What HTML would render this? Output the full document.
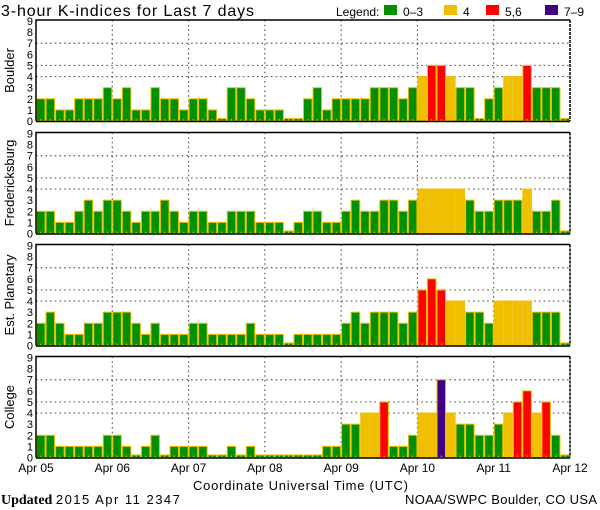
<!DOCTYPE html>
<html><head><meta charset="utf-8"><style>
body{margin:0;background:#fff;}
svg{display:block;font-family:"Liberation Sans","DejaVu Sans",sans-serif;}
</style></head><body>
<svg id="chart" width="600" height="510" viewBox="0 0 600 510">
<text x="1" y="16" font-size="16" fill="#000" textLength="253" lengthAdjust="spacing">3-hour K-indices for Last 7 days</text>
<g font-size="12">
<text x="336" y="16">Legend:</text>
<rect x="384" y="5" width="13" height="10" fill="#009000"/>
<text x="403" y="16">0–3</text>
<rect x="444" y="5" width="13" height="10" fill="#f0c000"/>
<text x="463" y="16">4</text>
<rect x="486" y="5" width="13" height="10" fill="#ff0000"/>
<text x="505" y="16">5,6</text>
<rect x="545" y="5" width="13" height="10" fill="#400080"/>
<text x="564" y="16">7–9</text>
</g>
<g id="panels"></g>
<text x="193" y="490" font-size="13" textLength="215" lengthAdjust="spacing">Coordinate Universal Time (UTC)</text>
<text x="1" y="504" font-size="14" font-family="Liberation Serif,serif"><tspan font-weight="bold">Updated</tspan> <tspan font-family="Liberation Sans,sans-serif" font-size="13" textLength="124" lengthAdjust="spacing">2015 Apr 11 2347</tspan></text>
<text x="405" y="504" font-size="13" textLength="192" lengthAdjust="spacing">NOAA/SWPC Boulder, CO USA</text>
</svg>
<script>
const stations = ["Boulder","Fredericksburg","Est. Planetary","College"];
const boulder = [2,2,1,1,2,2,2,3, 2,3,1,1,3,2,2,1, 2,2,1,0,3,3,2,1, 1,1,0,0,2,3,1,2, 2,2,2,3,3,3,2,3, 4,5,5,4,3,3,0,2, 3,4,4,5,3,3,3,0];
const fredericksburg = [2,2,1,1,2,3,2,3, 3,2,1,2,2,3,2,1, 2,2,1,1,2,2,2,1, 1,1,0,1,2,2,1,1, 2,3,2,2,3,3,2,3, 4,4,4,4,4,3,2,2, 3,3,3,4,2,2,3,0];
const planetary = [2,3,2,1,1,2,2,3, 3,3,2,1,2,1,1,1, 2,2,1,1,1,1,2,1, 1,1,0,1,1,1,1,1, 2,3,2,3,3,3,2,3, 5,6,5,4,4,3,3,2, 4,4,4,4,3,3,3,0];
const college = [2,2,1,1,1,1,1,2, 2,1,0,1,2,0,1,1, 1,1,0,0,1,0,1,0, 0,0,0,0,0,0,1,1, 3,3,4,4,5,1,1,2, 4,4,7,4,3,3,2,2, 3,4,5,6,4,5,2,0];
const dayLabels = ["Apr 05","Apr 06","Apr 07","Apr 08","Apr 09","Apr 10","Apr 11","Apr 12"];
const yTicks = [0,1,2,3,4,5,6,7,8,9];
const gridLevels = [4,5,7];

const series = [boulder, fredericksburg, planetary, college];
const NS = "http://www.w3.org/2000/svg";
const root = document.getElementById("panels");
const L = 36, R = 570, PH = 101;
const tops = [20, 132.5, 244.5, 356.5];
const nBars = 56;
const xScale = i => L + (R - L) * i / nBars;
function mk(tag, attrs, parent){const e=document.createElementNS(NS,tag);for(const k in attrs)e.setAttribute(k,attrs[k]);parent.appendChild(e);return e;}
function color(v){return v>=7?"#400080":v>=5?"#ff0000":v===4?"#f0c000":"#009000";}

series.forEach((vals, p) => {
  const top = tops[p], zero = top + PH;
  const unit = (PH - 1) / 9;
  const yScale = v => zero - v * unit;
  const g = mk("g", {}, root);
  
  
  gridLevels.forEach(lv => {
    const ln = mk("line",{x1:L,x2:R,y1:yScale(lv),y2:yScale(lv),stroke:"#555","stroke-width":1.2,"stroke-dasharray":"1.5,3.2"},g);
    
    
  });
  for (let d = 1; d < 7; d++) {
    const x = xScale(d*8);
    const ln = mk("line",{x1:x,x2:x,y1:top,y2:zero,stroke:"#555","stroke-width":1.2,"stroke-dasharray":"1.5,3.2"},g);
    
    
  }
  vals.forEach((v, i) => {
    const x0 = xScale(i), x1 = xScale(i+1);
    const h = Math.max(v * unit, 2.5);
    const r = mk("rect",{x:x0+0.5,y:zero-h,width:x1-x0-1,height:h,fill:color(v),stroke:"#f0c000","stroke-width":1},g);
    
    
    const t = mk("line",{x1:(x0+x1)/2,x2:(x0+x1)/2,y1:zero-2,y2:zero,stroke:"#f0c000","stroke-width":1},g);
    
    
  });
  const fr = mk("path",{d:`M${L} ${zero}V${top}H${R}`,fill:"none",stroke:"#000","stroke-width":1.5},g);
  
  
  const rb = mk("line",{x1:R,x2:R,y1:top,y2:zero,stroke:"#000","stroke-width":1.5,"stroke-dasharray":"3,1"},g);
  
  
  const xb = mk("line",{x1:L,x2:R,y1:zero+0.5,y2:zero+0.5,stroke:"#000","stroke-width":1.5},g);
  
  
  yTicks.forEach(v => {
    const t = mk("text",{x:33,y:yScale(v)+4,"font-size":11,"text-anchor":"end"},g);
    t.textContent = v;
    
    
  });
  const lab = mk("text",{x:0,y:0,"font-size":13,"text-anchor":"middle",transform:`translate(14 ${top+PH/2}) rotate(-90)`},g);
  lab.textContent = stations[p];
  
  
});
dayLabels.forEach((d, i) => {
  const t = mk("text",{x:xScale(i*8),y:472,"font-size":12,"text-anchor":"middle"},root);
  t.textContent = d;
  
  
});
</script>
</body></html>
